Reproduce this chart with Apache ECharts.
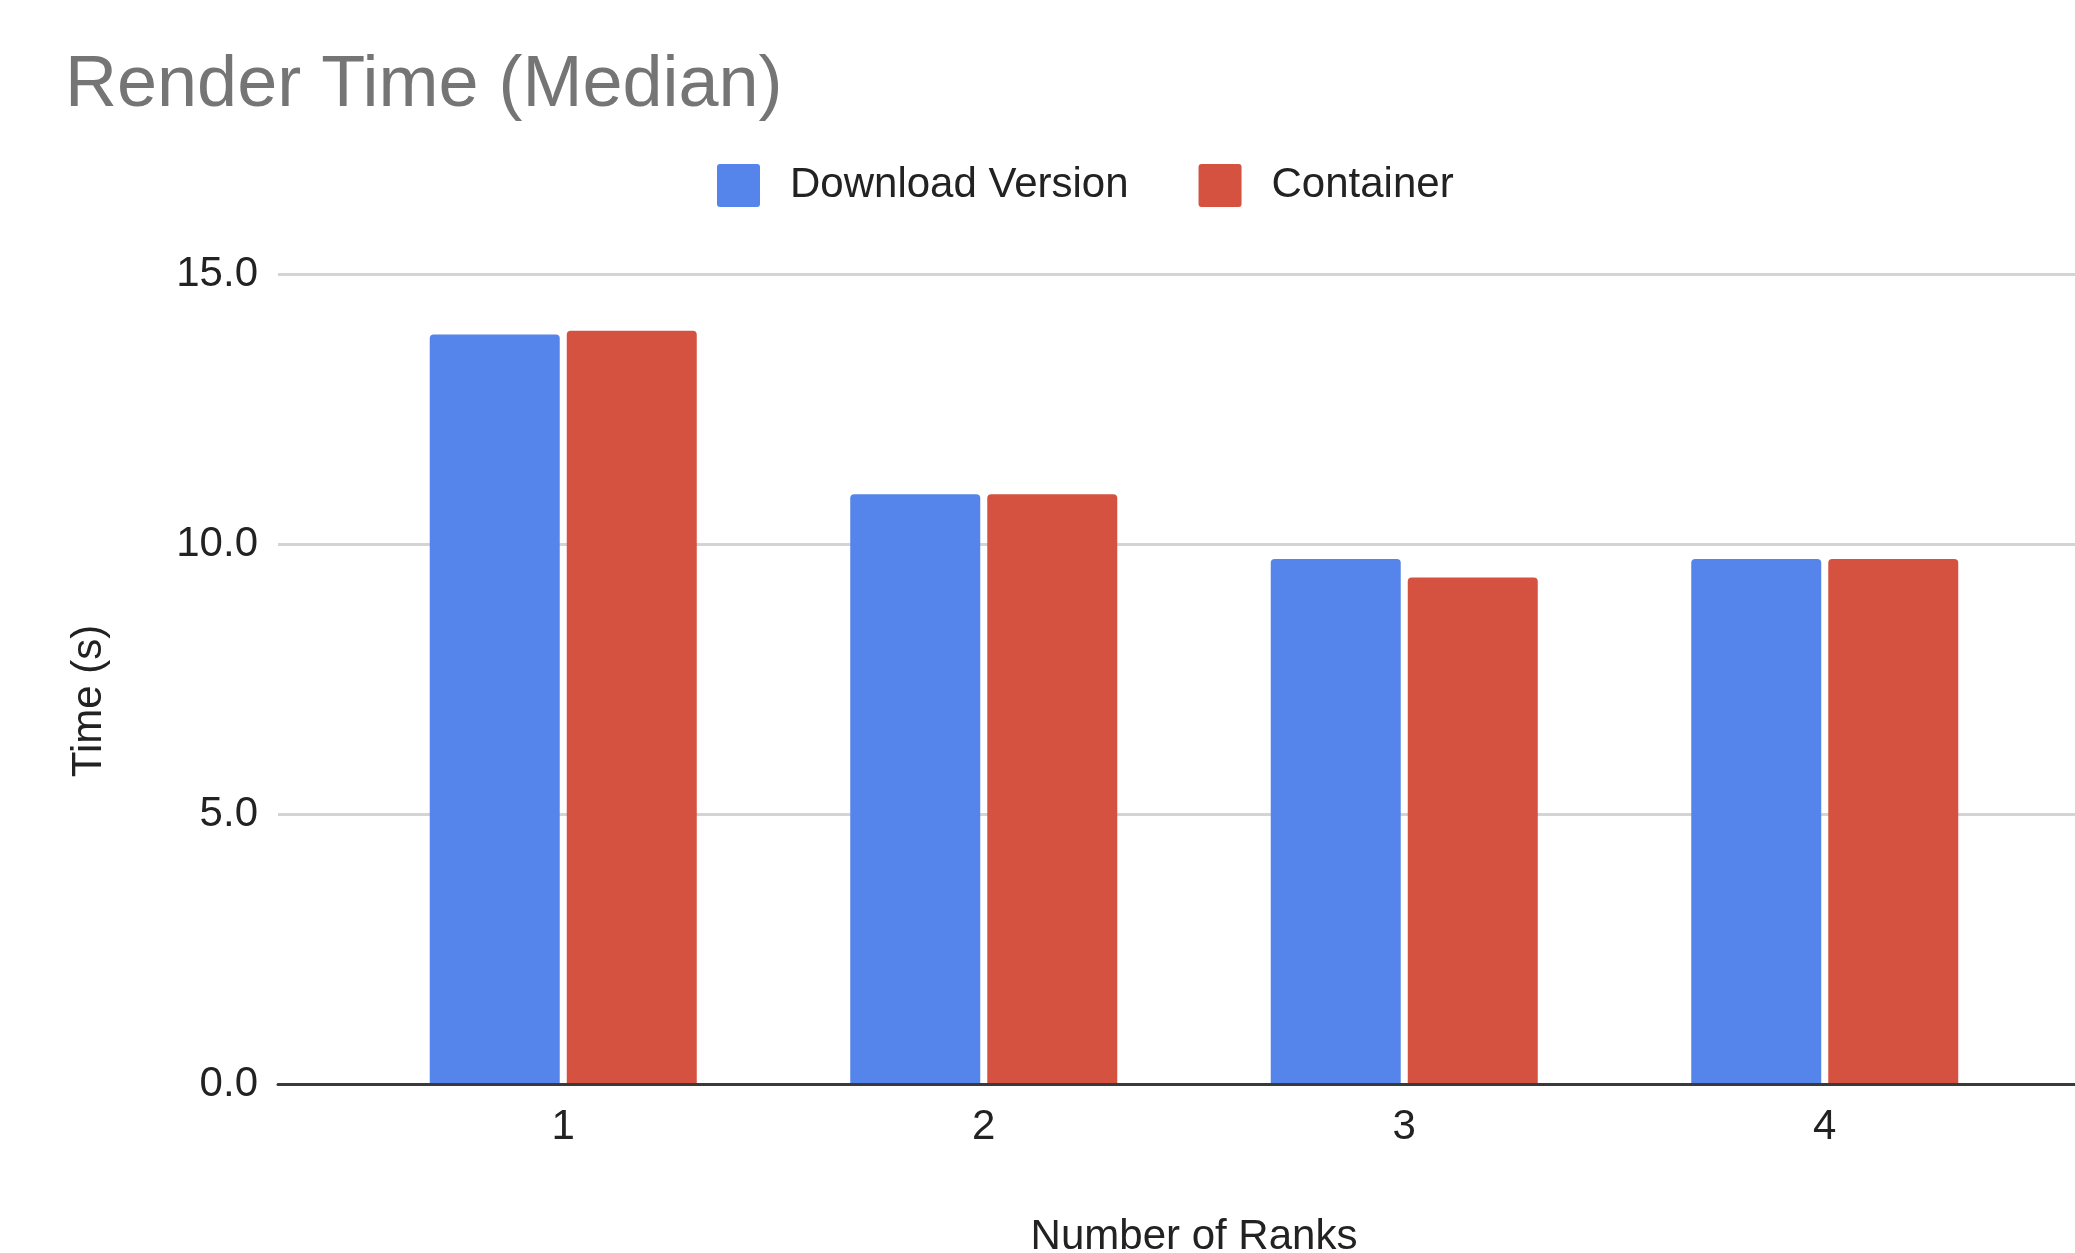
<!DOCTYPE html>
<html>
<head>
<meta charset="utf-8">
<title>Render Time (Median)</title>
<script src="https://cdn.jsdelivr.net/npm/echarts@6/dist/echarts.min.js"></script>
<style>
  html, body { margin: 0; padding: 0; background: #ffffff; }
  #chart { width: 2075px; height: 1253px; }
</style>
</head>
<body>
<div id="chart"></div>
<script>
// Median render time per number of ranks
const ranks = ['1', '2', '3', '4'];
const downloadVersion = [13.88, 10.92, 9.72, 9.72];
const container = [13.95, 10.92, 9.38, 9.72];
const yTicks = [0, 5, 10, 15];

const FONT = '"Liberation Sans", Arial, Helvetica, sans-serif';
const BLUE = '#5585EA';
const RED = '#D55140';
// square legend swatch with lightly rounded corners
const SWATCH = 'path://M3,0 H40 Q43,0 43,3 V40 Q43,43 40,43 H3 Q0,43 0,40 V3 Q0,0 3,0 Z';

const chart = echarts.init(document.getElementById('chart'), null, { renderer: 'canvas' });

chart.setOption({
  backgroundColor: '#ffffff',
  animation: false,
  textStyle: { fontFamily: FONT },
  title: {
    text: 'Render Time (Median)',
    left: 60,
    top: 45,
    textStyle: { fontFamily: FONT, fontSize: 72, fontWeight: 'normal', color: '#757575' }
  },
  legend: {
    left: 712,
    top: 159,
    itemWidth: 43,
    itemHeight: 43,
    itemGap: 70,
    icon: SWATCH,
    textStyle: { fontFamily: FONT, fontSize: 42, color: '#222222', padding: [0, 0, 0, 25] },
    data: ['Download Version', 'Container']
  },
  grid: [
    // bars
    { left: 353, right: 40, top: 274, bottom: 169, outerBoundsMode: 'none' },
    // value scale, gridlines and baseline spanning the full plot width
    { left: 278, right: -60, top: 274, bottom: 169, outerBoundsMode: 'none' }
  ],
  xAxis: [
    {
      type: 'category',
      gridIndex: 0,
      data: ranks,
      boundaryGap: true,
      axisLine: { show: false },
      axisTick: { show: false },
      axisLabel: { fontFamily: FONT, fontSize: 42, color: '#222222', margin: 22 },
      name: 'Number of Ranks',
      nameLocation: 'middle',
      nameGap: 132,
      nameTextStyle: { fontFamily: FONT, fontSize: 42, color: '#222222' }
    },
    {
      type: 'value',
      gridIndex: 1,
      min: 0,
      max: 1,
      z: 5,
      axisLine: { show: true, onZero: false, lineStyle: { color: '#3a3a3a', width: 3 } },
      axisTick: { show: false },
      axisLabel: { show: false },
      splitLine: { show: false }
    }
  ],
  yAxis: [
    {
      type: 'value',
      gridIndex: 0,
      min: 0,
      max: 15,
      interval: 5,
      show: false
    },
    {
      type: 'value',
      gridIndex: 1,
      min: yTicks[0],
      max: yTicks[yTicks.length - 1],
      interval: 5,
      axisLine: { show: false },
      axisTick: { show: false },
      axisLabel: {
        fontFamily: FONT, fontSize: 42, color: '#222222', margin: 20,
        formatter: v => v.toFixed(1)
      },
      splitLine: { show: true, lineStyle: { color: '#d4d4d4', width: 3 } },
      name: 'Time (s)',
      nameLocation: 'middle',
      nameGap: 168,
      nameRotate: 90,
      nameTextStyle: { fontFamily: FONT, fontSize: 42, color: '#222222', padding: [0, 44, 0, 0] }
    }
  ],
  series: [
    {
      name: 'Download Version',
      type: 'bar',
      xAxisIndex: 0,
      yAxisIndex: 0,
      data: downloadVersion,
      barWidth: 130,
      barGap: '5.4%',
      itemStyle: { color: BLUE, borderRadius: [4, 4, 0, 0] }
    },
    {
      name: 'Container',
      type: 'bar',
      xAxisIndex: 0,
      yAxisIndex: 0,
      data: container,
      barWidth: 130,
      barGap: '5.4%',
      itemStyle: { color: RED, borderRadius: [4, 4, 0, 0] }
    }
  ]
});
</script>
</body>
</html>
